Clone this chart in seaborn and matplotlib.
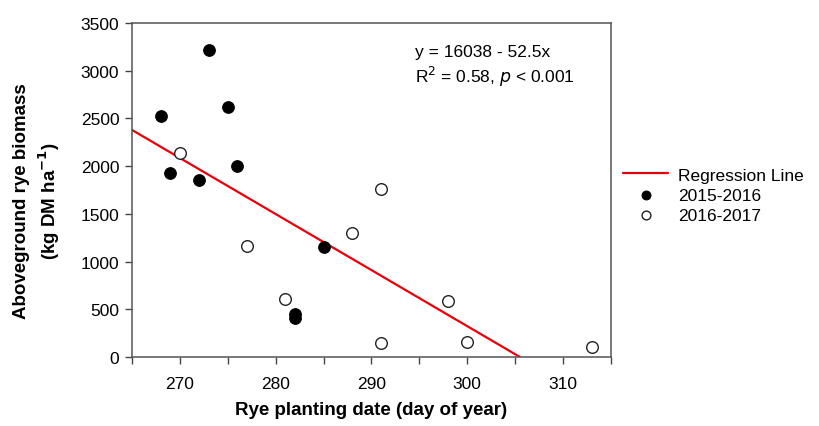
import matplotlib
matplotlib.use("Agg")
import matplotlib.pyplot as plt
import seaborn as sns
import pandas as pd
import numpy as np

# Data
doy_1516 = [268, 269, 272, 273, 275, 276, 282, 282, 285]
bio_1516 = [2525, 1925, 1855, 3220, 2620, 2005, 450, 410, 1155]
doy_1617 = [270, 277, 281, 288, 291, 291, 298, 300, 313]
bio_1617 = [2140, 1160, 610, 1300, 1760, 150, 590, 160, 100]
line_x = [265, 305.5]
line_y = [2380, 0]
x_ticks = [270, 280, 290, 300, 310]
y_ticks = [0, 500, 1000, 1500, 2000, 2500, 3000, 3500]

sns.set_style("white")
plt.rcParams['font.family'] = ['Liberation Sans', 'DejaVu Sans']
plt.rcParams['text.color'] = 'black'
plt.rcParams['axes.labelcolor'] = 'black'
plt.rcParams['xtick.color'] = 'black'
plt.rcParams['ytick.color'] = 'black'

fig = plt.figure(figsize=(8.19, 4.27), dpi=100)
ax = fig.add_axes([0.161, 0.1616, 0.585, 0.7822])

df_line = pd.DataFrame({"x": line_x, "y": line_y})
df1 = pd.DataFrame({"x": doy_1516, "y": bio_1516})
df2 = pd.DataFrame({"x": doy_1617, "y": bio_1617})

sns.lineplot(data=df_line, x="x", y="y", ax=ax, color="#e8000b", linewidth=1.6,
             label="Regression Line", zorder=2)
sns.scatterplot(data=df1, x="x", y="y", ax=ax, color="black", edgecolor="black",
                s=70, linewidth=0.8, label="2015-2016", zorder=3)
sns.scatterplot(data=df2, x="x", y="y", ax=ax, color="white", edgecolor="#222222",
                s=70, linewidth=1.0, label="2016-2017", zorder=3)

ax.set_xlim(265, 315)
ax.set_ylim(0, 3500)
ax.set_xticks(np.arange(265, 316, 5))
ax.set_xticklabels([str(t) if t in x_ticks else "" for t in np.arange(265, 316, 5)])
ax.set_yticks(y_ticks)
ax.set_yticklabels([str(t) for t in y_ticks])
ax.tick_params(axis="both", which="both", direction="out", length=5, width=1,
               color="#444444", labelcolor="black", labelsize=12.5, bottom=True,
               left=True, top=False, right=False, pad=4)
ax.tick_params(axis="x", pad=9)
for s in ax.spines.values():
    s.set_color("#555555")
    s.set_linewidth(1.1)

ax.set_xlabel("Rye planting date (day of year)", fontsize=13.5, fontweight="bold", labelpad=7)
ax.set_ylabel("Aboveground rye biomass\n(kg DM ha$^{\\mathbf{-1}}$)", fontsize=13.5,
              fontweight="bold", linespacing=1.3, va="center", ha="center")
ax.yaxis.set_label_coords(-0.197, 0.47)

ax.text(0.592, 0.915, "y = 16038 - 52.5x", transform=ax.transAxes, fontsize=12.5,
        ha="left", va="center")
ax.text(0.592, 0.84, "R$^2$ = 0.58, $\\it{p}$ < 0.001", transform=ax.transAxes,
        fontsize=12.5, ha="left", va="center")

leg = ax.legend(loc="center left", bbox_to_anchor=(1.0, 0.485), frameon=False,
                fontsize=12.5, handlelength=2.6, handletextpad=0.55,
                labelspacing=0.28, borderaxespad=0.3)
for h in leg.legend_handles[1:]:
    h.set_sizes([40])

fig.savefig("out.png", dpi=100)
